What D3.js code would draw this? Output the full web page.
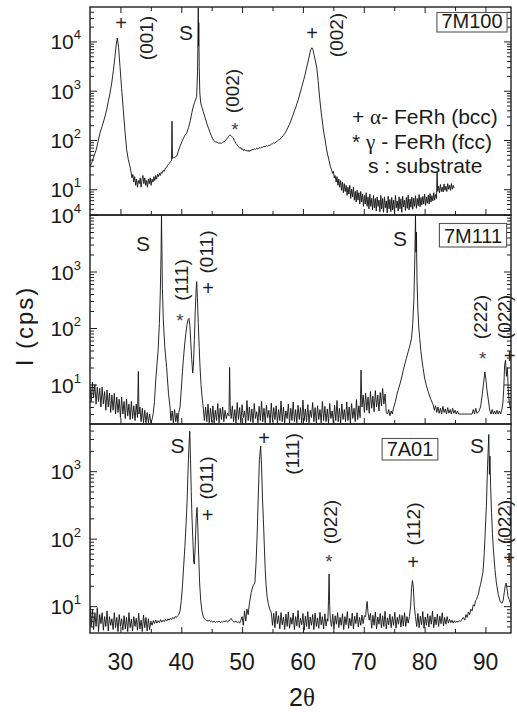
<!DOCTYPE html>
<html>
<head>
<meta charset="utf-8">
<script src="https://cdn.jsdelivr.net/npm/d3@7"></script>
<style>
  body { margin: 0; background: #fff; }
  svg { display: block; }
  text { font-family: "Liberation Sans", Arial, sans-serif; fill: #1a1a1a; }
</style>
</head>
<body>
<svg id="chart" width="517" height="712"></svg>
<script>
// ---- 2θ scans, [2θ (deg), intensity (cps)] ----
const scan7M100 = [
  [25.0,29],[25.3,35],[25.6,45],[26.0,62],[26.3,90],[26.64,138],[27.0,190],[27.4,280],[27.74,410],[28.0,600],[28.3,900],[28.57,1440],[28.85,2600],[29.11,5000],[29.3,8500],[29.49,11700],[29.7,7500],[29.93,3100],[30.2,1100],[30.47,410],[30.75,150],[31.03,63],[31.3,40],[31.57,29],[31.75,22],[31.9,17],[32.05,20],[32.2,14],[32.35,18],[32.5,12],[32.65,16],[32.8,11],[32.95,15],[33.1,13],[33.25,17],[33.4,11],[33.55,16],[33.7,19],[33.85,13],[34.0,17],[34.15,12],[34.3,15],[34.45,11],[34.6,16],[34.75,13],[34.9,17],[35.05,12],[35.2,16],[35.35,14],[35.5,18],[35.65,15],[35.8,19],[35.95,16],[36.1,20],[36.25,18],[36.4,21],[36.55,19],[36.7,22],[36.85,21],[37.0,24],[37.2,23],[37.4,27],[37.6,28],[37.8,31],[38.0,33],[38.2,36],[38.4,38],[38.48,240],[38.56,42],[38.75,44],[39.0,45],[39.25,47],[39.5,58],[39.8,75],[40.1,92],[40.4,112],[40.7,130],[40.9,138],[41.2,180],[41.5,250],[41.75,360],[41.98,480],[42.2,580],[42.4,680],[42.53,760],[42.68,2500],[42.8,48000],[42.84,8000],[42.88,24000],[42.95,3000],[43.05,900],[43.2,560],[43.36,480],[43.6,380],[43.9,290],[44.18,220],[44.5,170],[44.9,125],[45.27,100],[45.6,92],[45.9,90],[46.1,86],[46.37,87],[46.6,85],[46.8,90],[47.0,92],[47.19,94],[47.4,102],[47.6,110],[47.8,120],[48.0,127],[48.2,122],[48.4,114],[48.55,110],[48.7,98],[48.85,92],[49.0,84],[49.15,80],[49.3,76],[49.45,71],[49.65,68],[49.8,70],[49.95,64],[50.1,66],[50.25,61],[50.4,64],[50.55,60],[50.7,63],[50.85,59],[51.0,62],[51.15,58],[51.3,62],[51.45,60],[51.6,64],[51.84,63],[52.0,66],[52.2,64],[52.4,68],[52.6,66],[52.8,70],[53.0,68],[53.2,72],[53.4,71],[53.6,74],[53.8,73],[54.0,76],[54.2,75],[54.4,78],[54.6,78],[54.8,82],[55.0,84],[55.2,88],[55.4,86],[55.6,92],[55.8,95],[56.0,100],[56.2,103],[56.5,112],[56.75,122],[57.0,135],[57.25,152],[57.5,175],[57.75,205],[58.0,240],[58.2,282],[58.4,330],[58.6,390],[58.8,450],[59.0,540],[59.2,640],[59.4,780],[59.6,950],[59.8,1180],[60.0,1450],[60.15,1700],[60.3,2000],[60.45,2400],[60.6,2900],[60.75,3500],[60.9,4200],[61.05,5100],[61.15,5900],[61.3,6800],[61.44,7400],[61.55,7300],[61.65,6800],[61.85,5200],[62.05,4000],[62.26,3000],[62.5,1600],[62.75,700],[63.08,300],[63.4,150],[63.65,100],[63.9,63],[64.1,48],[64.3,38],[64.5,29],[64.7,25],[64.85,21],[65.0,23],[65.15,17],[65.3,19],[65.45,14],[65.6,18],[65.75,12],[65.9,16],[66.05,11],[66.2,15],[66.35,9.5],[66.5,14],[66.65,8.5],[66.8,13],[66.95,9],[67.1,12],[67.25,7.5],[67.4,11],[67.55,8],[67.7,12],[67.85,6.5],[68.0,10],[68.15,7],[68.3,11],[68.45,6],[68.6,9],[68.75,5.5],[68.9,9.5],[69.05,6],[69.2,8.5],[69.35,5],[69.5,9],[69.65,5.5],[69.8,8],[69.95,4.5],[70.1,7.5],[70.25,5],[70.4,8.5],[70.55,4.5],[70.7,7],[70.85,4],[71.0,8],[71.15,4.5],[71.3,6.5],[71.45,3.8],[71.6,7.5],[71.75,4.2],[71.9,6.5],[72.05,3.6],[72.2,7],[72.35,4.5],[72.5,6],[72.65,3.5],[72.8,7.5],[72.95,4],[73.1,6.5],[73.25,3.4],[73.4,7],[73.55,4.2],[73.7,5.8],[73.85,3.3],[74.0,7.2],[74.15,4],[74.3,6.2],[74.45,3.5],[74.6,6.8],[74.75,3.8],[74.9,6],[75.05,3.3],[75.2,7.5],[75.35,4.2],[75.5,5.8],[75.65,3.6],[75.8,7],[75.95,4],[76.1,6.4],[76.25,3.4],[76.4,7.2],[76.55,4.4],[76.7,6],[76.85,3.7],[77.0,6.8],[77.15,4.1],[77.3,7.6],[77.45,3.8],[77.6,6.3],[77.75,4.3],[77.9,7],[78.05,3.9],[78.2,6.6],[78.35,4.5],[78.5,7.4],[78.65,4.1],[78.8,6.5],[78.95,4.6],[79.1,7.8],[79.25,4.4],[79.4,6.8],[79.55,4.8],[79.7,7.2],[79.85,5],[80.0,8],[80.15,4.7],[80.3,6.9],[80.45,5.2],[80.6,7.6],[80.75,5],[80.9,8.2],[81.05,5.5],[81.2,7.4],[81.35,5.8],[81.5,8.5],[81.65,6],[81.8,7.8],[81.95,6.5],[82.05,22],[82.15,9],[82.3,11.5],[82.45,8.5],[82.6,12.5],[82.75,9],[82.9,11],[83.05,8.8],[83.2,12.8],[83.35,9.5],[83.5,11.5],[83.65,9],[83.8,13],[83.95,10],[84.1,12],[84.25,9.5],[84.4,13],[84.55,10],[84.7,12],[84.85,10.5]
];

const scan7M111 = [
  [25.0,9],[25.2,5],[25.4,11],[25.6,6],[25.8,10],[26.0,4.5],[26.2,9],[26.4,5],[26.6,8.5],[26.8,4],[27.0,9],[27.2,4.5],[27.4,7.5],[27.6,3.5],[27.8,8],[28.0,4],[28.2,7],[28.4,3.2],[28.6,6.5],[28.8,3.5],[29.0,7],[29.2,3],[29.4,6],[29.6,3.2],[29.8,5.5],[30.0,2.6],[30.2,6],[30.4,3],[30.6,5],[30.8,2.5],[31.0,5.5],[31.2,2.8],[31.4,4.5],[31.6,2.4],[31.8,5],[32.0,2.5],[32.2,4.2],[32.4,2.3],[32.6,4.5],[32.8,2.6],[32.95,17],[33.05,3],[33.2,4],[33.4,2.2],[33.6,3.8],[33.8,2.1],[34.0,3.5],[34.2,2.1],[34.4,3.2],[34.6,2.1],[34.8,3],[35.0,2.1],[35.2,2.4],[35.4,3.1],[35.6,5],[35.8,12],[36.0,22],[36.2,41],[36.4,120],[36.55,400],[36.68,2000],[36.75,9900],[36.82,2500],[36.9,500],[37.05,140],[37.3,45],[37.6,20],[37.9,7],[38.15,4],[38.3,2.3],[38.5,3.4],[38.7,2.1],[38.9,3.6],[39.1,2.2],[39.3,3.1],[39.45,2.1],[39.6,3.2],[39.8,4],[40.0,8],[40.2,17],[40.34,27],[40.55,50],[40.75,80],[40.95,115],[41.12,140],[41.27,148],[41.42,110],[41.57,55],[41.72,28],[41.88,16],[42.0,22],[42.15,60],[42.3,200],[42.45,500],[42.54,660],[42.65,350],[42.8,120],[42.95,45],[43.08,21],[43.25,10],[43.42,6],[43.6,4],[43.8,2.3],[44.0,4],[44.2,2.2],[44.4,4.5],[44.6,2.1],[44.8,3.8],[45.0,2.2],[45.2,4.2],[45.4,2.1],[45.6,3.5],[45.8,2.3],[46.0,4.6],[46.2,2.1],[46.4,3.8],[46.6,2.4],[46.8,4],[47.0,2.2],[47.2,3.5],[47.4,2.5],[47.6,3.1],[47.85,2.8],[47.95,20],[48.05,4],[48.2,2.5],
  [48.4,4.2],[48.6,2.2],[48.8,3.6],[49.0,2.1],[49.2,4.8],[49.4,2.4],[49.6,3.9],[49.8,2.1],[50.0,4.4],[50.2,2.6],[50.4,3.4],[50.6,2.1],[50.8,5.2],[51.0,2.3],[51.2,4.0],[51.4,2.2],[51.6,3.7],[51.8,2.1],[52.0,4.6],[52.2,2.5],[52.4,3.3],[52.6,2.1],[52.8,4.1],[53.0,2.3],[53.2,5.0],[53.4,2.2],[53.6,3.8],[53.8,2.1],[54.0,4.3],[54.2,2.6],[54.4,3.5],[54.6,2.1],[54.8,4.7],[55.0,2.2],[55.2,3.9],[55.4,2.4],[55.6,4.2],[55.8,2.1],[56.0,3.6],[56.2,2.3],[56.4,5.1],[56.6,2.2],[56.8,4.0],[57.0,2.1],[57.2,3.4],[57.4,2.5],[57.6,4.5],[57.8,2.1],[58.0,3.8],[58.2,2.3],[58.4,4.9],[58.6,2.2],[58.8,3.6],[59.0,2.1],[59.2,4.3],[59.4,2.4],[59.6,3.9],[59.8,2.1],[60.0,5.3],[60.2,2.3],[60.4,3.7],[60.6,2.2],[60.8,4.4],[61.0,2.1],[61.2,3.5],[61.4,2.6],[61.6,4.8],[61.8,2.2],[62.0,3.9],[62.2,2.1],[62.4,4.2],[62.6,2.4],[62.8,3.6],[63.0,2.1],[63.2,5.0],[63.4,2.3],[63.6,4.1],[63.8,2.2],[64.0,3.7],[64.2,2.1],[64.4,4.6],[64.6,2.5],[64.8,3.4],[65.0,2.1],[65.2,4.3],[65.4,2.3],[65.6,5.2],[65.8,2.2],[66.0,3.8],[66.2,2.1],[66.4,4.5],[66.6,2.4],[66.8,3.6],[67.0,2.2],[67.2,4.9],[67.4,2.3],[67.6,4.0],[67.8,2.1],[68.0,4.6],[68.2,2.5],[68.4,3.8],[68.6,2.2],[68.8,5.4],[69.0,2.4],[69.2,4.2],[69.4,2.6],[69.55,18],[69.7,4],[69.9,6.5],[70.1,3.2],[70.3,7],[70.5,3.5],[70.7,6],[70.9,3.1],[71.1,7.5],[71.3,3.8],[71.5,6.2],[71.7,3.3],[71.9,7.8],[72.1,4],[72.3,6.5],[72.5,3.4],[72.7,7.2],[72.9,4.2],[73.1,8.5],[73.3,4.5],[73.5,6.8],[73.7,3.2],[73.9,3.0],[74.1,3.6],[74.3,2.8],[74.5,3.4],[74.7,3.0],
  [74.85,3.7],[75.2,5],[75.5,7],[75.9,9.8],[76.2,13],[76.5,18],[76.8,24],[77.0,29],[77.3,38],[77.6,50],[77.85,65],[78.05,120],[78.25,350],[78.4,2000],[78.5,9900],[78.58,2200],[78.65,5000],[78.75,700],[78.9,200],[79.05,100],[79.2,65],[79.4,38],[79.6,25],[79.77,19],[80.0,13],[80.3,9.5],[80.6,7.4],[81.0,5.5],[81.4,4.4],[81.6,3.5],[81.8,4.2],[82.0,3.2],[82.2,4.0],[82.4,3.1],[82.6,3.8],[82.8,3.0],[83.0,4.1],[83.2,3.2],[83.4,3.7],[83.6,3.0],[83.8,3.9],[84.0,3.1],[84.2,3.6],[84.4,3.0],[84.6,3.8],[84.8,3.1],[85.0,3.5],[85.2,3.0],[85.4,3.4],[85.6,3.0],[86.0,3.0],[86.5,3.0],[87.0,3.0],[87.5,3.0],[87.8,3.0],[88.0,3.6],[88.2,3.0],[88.4,3.8],[88.6,3.1],[88.9,3.3],[89.2,4],[89.5,7],[89.75,12],[89.9,16.6],[90.05,13],[90.25,8],[90.45,5.6],[90.7,3.5],[90.9,3.0],[91.1,3.6],[91.3,3.0],[91.5,3.4],[91.7,3.0],[91.9,3.5],[92.1,3.0],[92.3,3.4],[92.5,3.0],[92.7,3.6],[92.85,4.5],[93.0,8],[93.15,22],[93.3,27],[93.45,14],[93.6,20],[93.75,8],[93.9,5],[94.05,4],[94.2,3.5]
];

const scan7A01 = [
  [25.0,10],[25.2,5],[25.4,9],[25.6,4.5],[25.8,8],[26.0,5],[26.2,9.5],[26.4,4.2],[26.6,7.5],[26.8,5.5],[27.0,8],[27.2,4.4],[27.4,7],[27.6,5],[27.8,8.5],[28.0,4.3],[28.2,7],[28.4,5.2],[28.6,6.5],[28.8,4.5],[29.0,8],[29.2,4.8],[29.4,6.8],[29.6,4.2],[29.8,7.5],[30.0,5],[30.2,6.5],[30.4,4.4],[30.6,7.2],[30.8,4.6],[31.0,6.8],[31.2,4.2],[31.4,8],[31.6,4.8],[31.8,6.4],[32.0,4.3],[32.2,7],[32.4,5],[32.6,6.6],[32.8,4.4],[33.0,7.8],[33.2,4.6],[33.4,6.2],[33.6,4.2],[33.8,7.4],[34.0,4.8],[34.2,6.8],[34.4,4.3],[34.6,6.5],[34.8,4.5],[35.0,6],[35.2,5.2],[35.4,6.1],[35.6,5.5],[35.8,6.2],[36.0,5.6],[36.2,6.1],[36.4,5.7],[36.6,6.3],[36.8,5.8],[37.0,6.2],[37.2,5.9],[37.4,6.4],[37.6,6.0],[37.8,6.5],[38.0,6.2],[38.2,6.6],[38.4,6.3],[38.6,6.8],[38.8,6.5],[39.0,7],[39.2,6.8],[39.4,7.2],[39.6,7.5],[39.8,8.5],[40.0,12],[40.2,20],[40.4,40],[40.6,77],[40.8,170],[40.95,340],[41.1,900],[41.25,2200],[41.4,3900],[41.52,1500],[41.64,500],[41.77,200],[41.92,90],[42.05,45],[42.15,42],[42.3,80],[42.45,200],[42.6,290],[42.72,150],[42.87,55],[43.02,22],[43.2,12],[43.4,8.5],[43.6,7.1],[43.8,6.5],[44.0,6.3],[44.2,6.1],[44.4,6.0],[44.6,6.2],[44.8,5.9],[45.0,6.0],[45.2,5.8],[45.4,6.0],[45.6,5.7],[45.8,5.9],[46.0,5.8],[46.2,6.0],[46.4,5.7],[46.6,5.9],[46.8,5.8],[47.0,6.0],[47.2,5.9],[47.4,6.1],[47.6,5.8],[47.8,6.0],[48.0,6.3],[48.2,6.6],[48.4,6.1],[48.6,5.9],[48.8,5.8],[49.0,6.0],[49.2,5.7],[49.4,5.9],[49.6,5.6],[49.8,6.2],[50.0,7],[50.2,5.2],[50.4,8.5],[50.6,6.0],[50.8,9],[51.0,7.5],[51.2,11],[51.5,16],[51.8,20],[52.1,22],[52.3,45],[52.47,110],[52.65,400],[52.85,1500],[53.05,2350],[53.2,1200],[53.35,400],[53.5,190],[53.65,80],[53.8,35],[53.95,20],[54.1,14],[54.3,11],[54.55,9],
  [54.8,8],[55.0,5.2],[55.2,7.8],[55.4,4.8],[55.6,8.4],[55.8,5.5],[56.0,7.2],[56.2,4.6],[56.4,8.0],[56.6,5.3],[56.8,6.9],[57.0,4.5],[57.2,7.6],[57.4,5.0],[57.6,8.2],[57.8,4.7],[58.0,6.8],[58.2,5.4],[58.4,7.9],[58.6,4.5],[58.8,7.0],[59.0,5.1],[59.2,8.6],[59.4,4.8],[59.6,6.6],[59.8,5.3],[60.0,7.8],[60.2,4.4],[60.4,7.1],[60.6,5.0],[60.8,8.3],[61.0,4.6],[61.2,6.9],[61.4,5.2],[61.6,7.5],[61.8,4.5],[62.0,7.9],[62.2,5.0],[62.4,6.7],[62.6,4.7],[62.8,8.1],[63.0,5.3],[63.2,7.0],[63.4,4.6],[63.6,7.7],[63.8,5.1],[64.0,6.5],[64.1,6],[64.2,12],[64.3,30],[64.4,10],[64.5,6.5],[64.7,5.0],[64.9,7.6],[65.1,4.6],[65.3,7.2],[65.5,5.4],[65.7,8.0],[65.9,4.8],[66.1,6.8],[66.3,5.2],[66.5,7.7],[66.7,4.5],[66.9,7.0],[67.1,5.3],[67.3,8.3],[67.5,4.7],[67.7,6.6],[67.9,5.1],[68.1,7.9],[68.3,4.6],[68.5,7.1],[68.7,5.5],[68.9,8.0],[69.1,4.9],[69.3,6.8],[69.5,5.2],[69.7,7.4],[69.9,5.5],[70.1,7.2],[70.3,7],[70.45,10],[70.55,11.7],[70.7,8],[70.9,6.2],[71.1,7.8],[71.3,4.7],[71.5,7.3],[71.7,5.2],[71.9,8.2],[72.1,4.6],[72.3,6.9],[72.5,5.4],[72.7,7.8],[72.9,4.8],[73.1,7.2],[73.3,5.0],[73.5,8.4],[73.7,4.6],[73.9,6.7],[74.1,5.3],[74.3,7.6],[74.5,4.8],[74.7,7.0],[74.9,5.2],[75.1,8.1],[75.3,4.7],[75.5,6.8],[75.7,5.4],[75.9,7.5],[76.1,4.9],[76.3,7.3],[76.5,5.1],[76.7,8.0],[76.9,5.0],[77.1,7.0],[77.3,5.6],[77.5,7],[77.7,10],[77.85,18],[78.0,24],[78.15,19],[78.3,10],[78.5,7],[78.7,5.0],[78.9,7.8],[79.1,4.8],[79.3,7.1],[79.5,5.3],[79.7,8.3],[79.9,4.7],[80.1,6.9],[80.3,5.2],[80.5,7.7],[80.7,4.9],[80.9,7.2],[81.1,5.4],[81.3,8.5],[81.5,4.8],[81.7,6.9],[81.9,5.3],[82.1,7.6],[82.3,5.0],[82.5,7.1],[82.7,5.5],[82.9,8.0],[83.1,5.1],[83.3,6.8],[83.5,5.4],[83.7,7.0],[83.9,5.6],[84.1,6.4],[84.3,5.7],[84.5,6.2],[84.7,5.6],[84.9,6.1],[85.1,5.7],[85.3,6.0],[85.5,5.8],[85.7,6.1],[85.9,5.9],[86.1,6.3],
  [86.35,6.8],[86.6,6.2],[86.8,7.5],[87.0,6.8],[87.2,8.2],[87.4,7.5],[87.6,9],[87.8,8.5],[88.0,10.5],[88.2,10],[88.35,12],[88.55,12.6],[88.7,14],[88.85,15],[89.0,18],[89.2,21],[89.4,26],[89.6,32],[89.8,60],[90.0,150],[90.15,300],[90.35,1200],[90.55,3500],[90.65,900],[90.74,1670],[90.85,600],[91.0,245],[91.15,120],[91.3,70],[91.56,35],[91.8,22],[92.1,15],[92.4,11.8],[92.7,11],[92.9,12],[93.1,16],[93.25,20],[93.4,22],[93.55,18],[93.7,14],[93.9,12.6],[94.1,11],[94.2,10]
];

// ---- axis values ----
const twoThetaRange = [25, 94.2];
const xMajorTicks = [30, 40, 50, 60, 70, 80, 90];
const xMinorTicks = [35, 45, 55, 65, 75, 85];
const xTickLabels = ["30", "40", "50", "60", "70", "80", "90"];

const sampleNames = ["7M100", "7M111", "7A01"];
const cpsRanges = [[3, 5e4], [2, 1e4], [4, 5000]];
const labelledDecades = [[1, 2, 3, 4], [1, 2, 3, 4], [1, 2, 3]];

// peak markers: [panel, text, 2θ, px below panel top, kind]
const peakMarks = [
  [0, "+", 30.10, 16, "plus"], [0, "(001)", 34.53, 31, "hkl"], [0, "S", 40.78, 25, "sub"],
  [0, "(002)", 48.67, 84, "hkl"], [0, "*", 48.83, 118, "star"],
  [0, "+", 61.49, 26, "plus"], [0, "(002)", 65.76, 28, "hkl"],
  [1, "S", 33.71, 28, "sub"], [1, "(111)", 40.20, 65, "hkl"], [1, "*", 39.79, 101, "star"],
  [1, "(011)", 44.40, 37, "hkl"], [1, "+", 44.40, 73, "plus"], [1, "S", 75.95, 23, "sub"],
  [1, "(222)", 89.43, 102, "hkl"], [1, "*", 89.55, 139, "star"],
  [1, "(022)", 93.38, 102, "hkl"], [1, "+", 93.95, 141, "plus"],
  [2, "S", 39.38, 21, "sub"], [2, "(011)", 44.40, 54, "hkl"], [2, "+", 44.31, 91, "plus"],
  [2, "+", 53.60, 14, "plus"], [2, "(111)", 58.53, 30, "hkl"], [2, "S", 88.61, 21, "sub"],
  [2, "(022)", 64.78, 98, "hkl"], [2, "*", 64.28, 133, "star"],
  [2, "(112)", 78.42, 100, "hkl"], [2, "+", 78.09, 138, "plus"],
  [2, "(022)", 93.38, 98, "hkl"], [2, "+", 93.9, 134, "plus"]
];

// ---- layout ----
const svg = d3.select("#chart");
const left = 90, right = 511;
const bands = [[7, 215], [215, 424], [424, 633]];
const ink = "#1f1f1f";

const x = d3.scaleLinear().domain(twoThetaRange).range([left, right]);

const scans = [scan7M100, scan7M111, scan7A01];

function minorDecadeTicks(dom) {
  const out = [];
  const lo = Math.floor(Math.log10(dom[0])), hi = Math.ceil(Math.log10(dom[1]));
  for (let e = lo; e <= hi; e++) {
    for (let m = 2; m <= 9; m++) {
      const v = m * Math.pow(10, e);
      if (v > dom[0] && v < dom[1]) out.push(v);
    }
  }
  return out;
}

function styleAxis(g) {
  g.select(".domain").remove();
  g.selectAll("text").remove();
  g.selectAll("line").attr("stroke", ink).attr("stroke-width", 1);
}

bands.forEach(([top, bottom], i) => {
  const y = d3.scaleLog().domain(cpsRanges[i]).range([bottom, top]);
  const g = svg.append("g");

  const clipId = "clip" + i;
  svg.append("clipPath").attr("id", clipId)
    .append("rect").attr("x", left).attr("y", top).attr("width", right - left).attr("height", bottom - top);

  // scan trace
  g.append("path")
    .datum(scans[i])
    .attr("clip-path", `url(#${clipId})`)
    .attr("fill", "none")
    .attr("stroke", "#111")
    .attr("stroke-width", 0.9)
    .attr("stroke-linejoin", "round")
    .attr("d", d3.line().x(d => x(d[0])).y(d => y(d[1])));

  // y ticks, inward on both sides
  const majors = labelledDecades[i].map(e => Math.pow(10, e)).filter(v => v >= cpsRanges[i][0] && v <= cpsRanges[i][1]);
  const minors = minorDecadeTicks(cpsRanges[i]);
  g.append("g").attr("transform", `translate(${left},0)`)
    .call(d3.axisLeft(y).tickValues(majors).tickSize(-7).tickFormat(""))
    .call(styleAxis);
  g.append("g").attr("transform", `translate(${left},0)`)
    .call(d3.axisLeft(y).tickValues(minors).tickSize(-4).tickFormat(""))
    .call(styleAxis);
  g.append("g").attr("transform", `translate(${right},0)`)
    .call(d3.axisRight(y).tickValues(majors).tickSize(-7).tickFormat(""))
    .call(styleAxis);
  g.append("g").attr("transform", `translate(${right},0)`)
    .call(d3.axisRight(y).tickValues(minors).tickSize(-4).tickFormat(""))
    .call(styleAxis);

  // x ticks along the bottom edge (pointing up)
  g.append("g").attr("transform", `translate(0,${bottom})`)
    .call(d3.axisBottom(x).tickValues(xMajorTicks).tickSize(-6).tickFormat(""))
    .call(styleAxis);
  g.append("g").attr("transform", `translate(0,${bottom})`)
    .call(d3.axisBottom(x).tickValues(xMinorTicks).tickSize(-4).tickFormat(""))
    .call(styleAxis);
  if (i === 0) {
    g.append("g").attr("transform", `translate(0,${top})`)
      .call(d3.axisTop(x).tickValues(xMajorTicks).tickSize(-6).tickFormat(""))
      .call(styleAxis);
    g.append("g").attr("transform", `translate(0,${top})`)
      .call(d3.axisTop(x).tickValues(xMinorTicks).tickSize(-4).tickFormat(""))
      .call(styleAxis);
  }

  // frame
  g.append("rect")
    .attr("x", left).attr("y", top)
    .attr("width", right - left).attr("height", bottom - top)
    .attr("fill", "none").attr("stroke", ink).attr("stroke-width", 1.4);

  // decade labels 10^n
  labelledDecades[i].forEach(e => {
    const t = g.append("text")
      .attr("x", 81).attr("y", y(Math.pow(10, e)) + 8)
      .attr("text-anchor", "end").attr("font-size", 21);
    t.append("tspan").text("10");
    t.append("tspan").attr("dy", -10).attr("font-size", 13).text(String(e));
  });
});

// 2θ tick labels under the last panel
svg.append("g").selectAll("text")
  .data(xMajorTicks)
  .join("text")
  .attr("x", d => x(d))
  .attr("y", 670)
  .attr("text-anchor", "middle")
  .attr("font-size", 23)
  .text((d, k) => xTickLabels[k]);

// axis titles
const xt = svg.append("text").attr("x", 302).attr("y", 706).attr("text-anchor", "middle").attr("font-size", 25);
xt.append("tspan").text("2");
xt.append("tspan").attr("font-family", "'Liberation Serif', 'DejaVu Serif', serif").text("θ");

svg.append("text")
  .attr("transform", "translate(33,326) rotate(-90)")
  .attr("text-anchor", "middle")
  .attr("font-size", 24)
  .attr("letter-spacing", 2)
  .text("I (cps)");

// peak markers
const markStyle = {
  plus: { size: 20, shift: 0.36, color: "#1f1f1f" },
  star: { size: 19, shift: 0.58, color: "#444" },
  sub:  { size: 21, shift: 0.36, color: "#1f1f1f" },
  hkl:  { size: 19, shift: 0.28, color: "#1f1f1f" }
};
peakMarks.forEach(([p, txt, tt, off, kind]) => {
  const st = markStyle[kind];
  const cx = x(tt), cy = bands[p][0] + off;
  const t = svg.append("text")
    .attr("text-anchor", "middle")
    .attr("font-size", st.size)
    .style("fill", st.color)
    .text(txt);
  if (kind === "hkl") {
    t.attr("transform", `translate(${cx + st.shift * st.size},${cy}) rotate(-90)`);
  } else {
    t.attr("x", cx).attr("y", cy + st.shift * st.size);
  }
});

// sample name boxes
const boxes = [
  { p: 0, cx: 472, y0: 12.5, y1: 32 },
  { p: 1, cx: 473, y0: 223.5, y1: 247 },
  { p: 2, cx: 410, y0: 438.5, y1: 460 }
];
boxes.forEach(b => {
  const bg = svg.append("g");
  const frame = bg.append("rect");
  const t = bg.append("text")
    .attr("x", b.cx).attr("y", b.y1 - 4)
    .attr("text-anchor", "middle").attr("font-size", 20)
    .text(sampleNames[b.p]);
  const w = t.node().getComputedTextLength();
  frame
    .attr("x", b.cx - w / 2 - 4.5).attr("y", b.y0)
    .attr("width", w + 9).attr("height", b.y1 - b.y0)
    .attr("fill", "#fff").attr("stroke", "#555").attr("stroke-width", 1.1);
});

// phase key
const greek = "'Liberation Serif', 'DejaVu Serif', serif";
const key = svg.append("g").attr("font-size", 21);
const k1 = key.append("text").attr("x", 352).attr("y", 124);
k1.append("tspan").text("+ ");
k1.append("tspan").attr("font-family", greek).text("α");
k1.append("tspan").text("- FeRh (bcc)");
const k2 = key.append("text").attr("x", 352).attr("y", 149);
k2.append("tspan").text("*  ");
k2.append("tspan").attr("font-family", greek).text("γ");
k2.append("tspan").text(" - FeRh (fcc)");
key.append("text").attr("x", 368).attr("y", 173).text("s : substrate");
</script>
</body>
</html>
